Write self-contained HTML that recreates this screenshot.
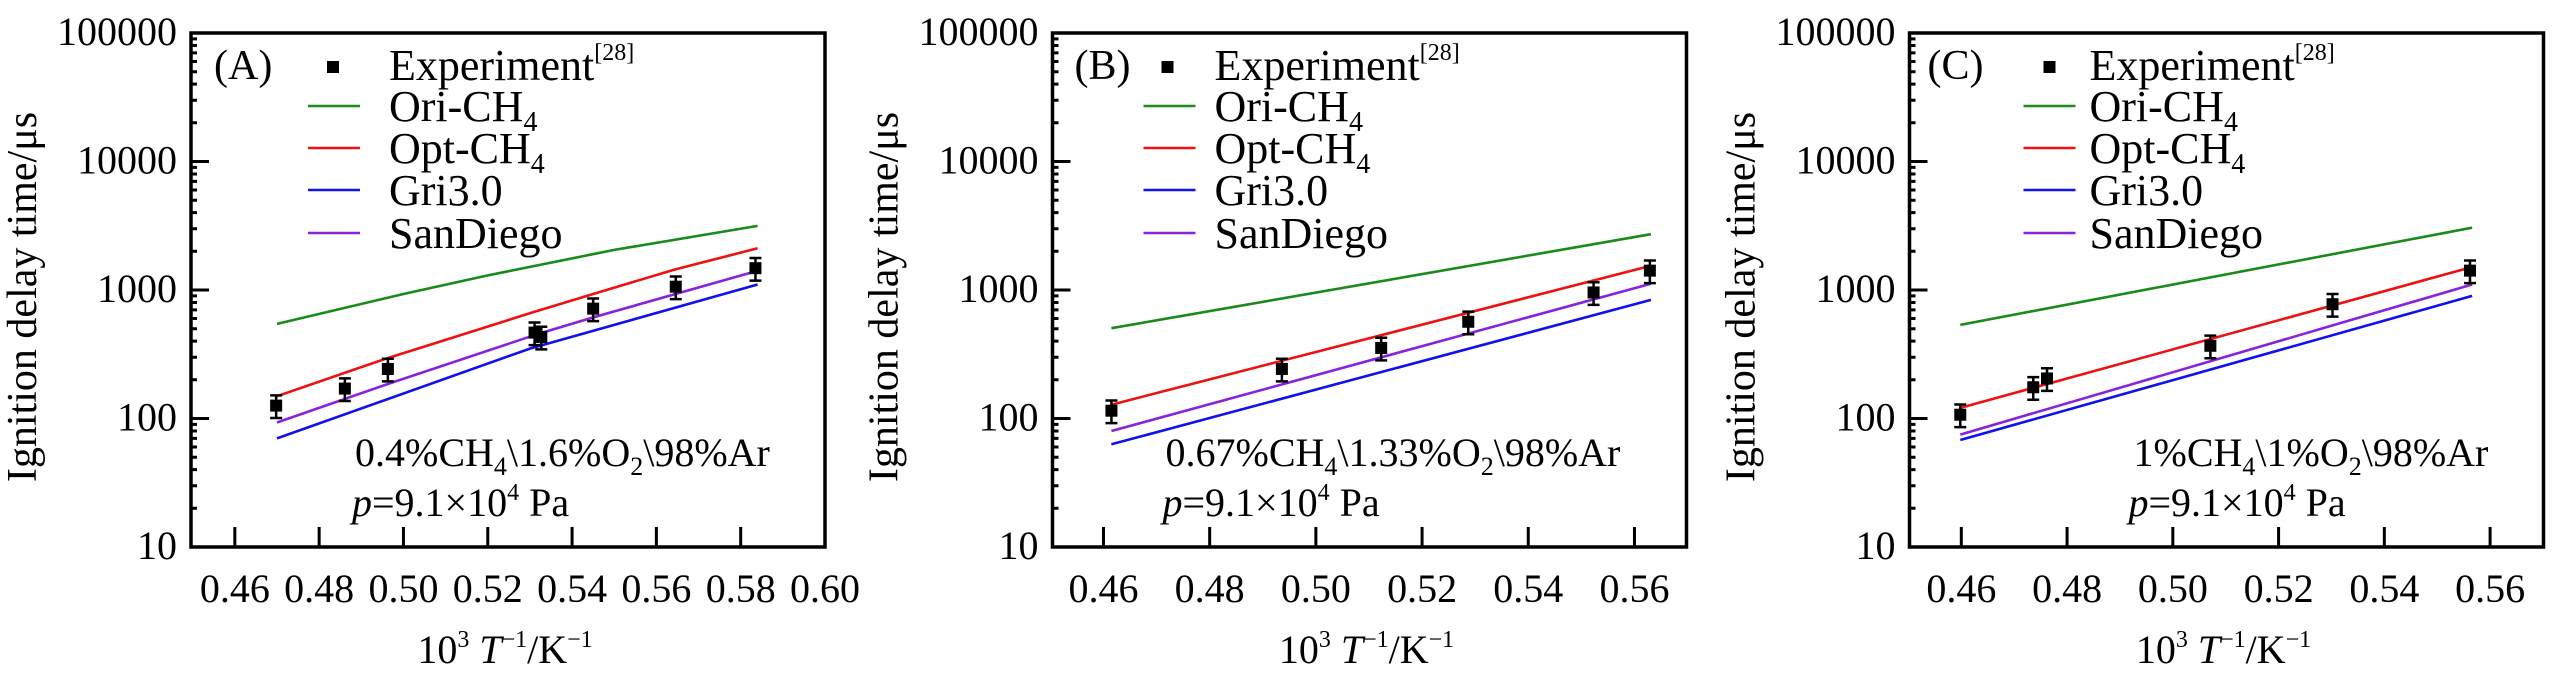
<!DOCTYPE html>
<html><head><meta charset="utf-8"><style>
html,body{margin:0;padding:0;background:#fff;}
svg{display:block;}
svg text, svg tspan{font-family:"Liberation Serif","Times New Roman",Times,"DejaVu Serif","Noto Serif CJK SC",serif !important;}
</style></head><body>
<svg id="fig" width="2567" height="684" viewBox="0 0 2567 684" xmlns="http://www.w3.org/2000/svg"></svg>
<script>
// ---- Data ----
const panelLabels = ["(A)", "(B)", "(C)"];
const xTicksA = [0.46,0.48,0.50,0.52,0.54,0.56,0.58,0.60];
const xTicksBC = [0.46,0.48,0.50,0.52,0.54,0.56];
const yTicks = [10,100,1000,10000,100000];
const yTickLabels = ["10","100","1000","10000","100000"];

const oriA_x = [0.470,0.500,0.520,0.550,0.584];
const oriA_y = [545,930,1300,2050,3155];
const optA_x = [0.470,0.4955,0.5313,0.545,0.5646,0.584];
const optA_y = [149,290,680,930,1452,2113];
const griA_x = [0.470,0.530,0.584];
const griA_y = [70,350,1104];
const sanA_x = [0.470,0.4955,0.5313,0.545,0.584];
const sanA_y = [93,182,448,612,1413];
const expA_x = [0.4698,0.4861,0.4963,0.5311,0.5327,0.5450,0.5646,0.5835];
const expA_y = [126,171,243,466,431,716,1061,1479];

const oriB_x = [0.4615,0.5631];
const oriB_y = [504,2716];
const optB_x = [0.4615,0.5631];
const optB_y = [128,1545];
const griB_x = [0.4615,0.5631];
const griB_y = [63,837];
const sanB_x = [0.4615,0.5631];
const sanB_y = [80,1119];
const expB_x = [0.4615,0.4936,0.5123,0.5287,0.5523,0.5629];
const expB_y = [115,243,354,566,957,1415];

const oriC_x = [0.4598,0.5566];
const oriC_y = [535,3055];
const optC_x = [0.4598,0.5566];
const optC_y = [121,1510];
const griC_x = [0.4598,0.5566];
const griC_y = [68,899];
const sanC_x = [0.4598,0.5566];
const sanC_y = [75,1104];
const expC_x = [0.4598,0.4736,0.4762,0.5071,0.5302,0.5562];
const expC_y = [107,175,205,368,775,1415];

const errFrac = 0.2;

// ---- Drawing ----
const NS="http://www.w3.org/2000/svg";
const svg=document.getElementById('fig');
const FF='"Liberation Serif","Times New Roman",Times,"DejaVu Serif",serif';
function mk(tag,attrs,parent){const e=document.createElementNS(NS,tag);for(const k in attrs)e.setAttribute(k,attrs[k]);if(tag==='text')e.style.fontFamily=FF;(parent||svg).appendChild(e);return e;}

const panels=[
 {left:191,xmin:0.4496,xmax:0.6,ticks:xTicksA,lab:panelLabels[0],
  series:[[oriA_x,oriA_y],[optA_x,optA_y],[griA_x,griA_y],[sanA_x,sanA_y]],ex:expA_x,ey:expA_y,
  legLine:117,legSq:142,legText:198,labX:23,annX:164,pX:161,
  ann:["0.4%CH","4","\\1.6%O","2","\\98%Ar"]},
 {left:1052.5,xmin:0.4504,xmax:0.5698,ticks:xTicksBC,lab:panelLabels[1],
  series:[[oriB_x,oriB_y],[optB_x,optB_y],[griB_x,griB_y],[sanB_x,sanB_y]],ex:expB_x,ey:expB_y,
  legLine:91,legSq:115,legText:162,labX:22,annX:113,pX:110,
  ann:["0.67%CH","4","\\1.33%O","2","\\98%Ar"]},
 {left:1909.5,xmin:0.4502,xmax:0.5701,ticks:xTicksBC,lab:panelLabels[2],
  series:[[oriC_x,oriC_y],[optC_x,optC_y],[griC_x,griC_y],[sanC_x,sanC_y]],ex:expC_x,ey:expC_y,
  legLine:114,legSq:140,legText:180,labX:18,annX:224,pX:219,
  ann:["1%CH","4","\\1%O","2","\\98%Ar"]}
];
const colors=["#1a8a1a","#ee1111","#1111ee","#8822dd"];
const names=["ori-ch4","opt-ch4","gri30","sandiego"];
const W=634, plotTop=33, plotBot=547;
const legNames=[["Ori-CH","4"],["Opt-CH","4"],["Gri3.0",""],["SanDiego",""]];

panels.forEach((p,pi)=>{
  const g=mk('g',{});
  
  
  const X=v=>p.left+(v-p.xmin)/(p.xmax-p.xmin)*W;
  const Y=v=>plotBot-(Math.log10(v)-1)/4*(plotBot-plotTop);
  p.series.forEach((s,si)=>{
    const d=s[0].map((x,i)=>(i?'L':'M')+X(x).toFixed(1)+' '+Y(s[1][i]).toFixed(1)).join(' ');
    const l=mk('path',{d:d,fill:'none',stroke:colors[si],'stroke-width':2.6,'stroke-linejoin':'round'},g);
    
    
  });
  p.ex.forEach((x,i)=>{
    const cx=X(x), cy=Y(p.ey[i]), y1=Y(p.ey[i]*(1+errFrac)), y2=Y(p.ey[i]*(1-errFrac));
    const e=mk('g',{},g);
    
    
    mk('path',{d:`M${cx} ${y1}V${y2}M${cx-6} ${y1}H${cx+6}M${cx-6} ${y2}H${cx+6}`,stroke:'#000','stroke-width':2.5,fill:'none'},e);
    mk('rect',{x:cx-6,y:cy-6,width:12,height:12,fill:'#000'},e);
  });
  const fr=mk('rect',{x:p.left,y:plotTop,width:W,height:plotBot-plotTop,fill:'none',stroke:'#000','stroke-width':3.5},g);
  
  
  let tk='';
  for(let dec=1;dec<5;dec++){for(let m=2;m<10;m++){const y=Y(m*Math.pow(10,dec));tk+=`M${p.left} ${y.toFixed(1)}h6`;}}
  yTicks.forEach(v=>{const y=Y(v);tk+=`M${p.left} ${y}h18`;});
  p.ticks.forEach(v=>{const x=X(v);tk+=`M${x} ${plotBot}v-20`;});
  mk('path',{d:tk,stroke:'#000','stroke-width':3,fill:'none'},g);
  yTicks.forEach((v,i)=>{
    const t=mk('text',{x:p.left-14,y:Y(v)+12,'text-anchor':'end','font-size':40},g);
    t.textContent=yTickLabels[i];
    
    
  });
  p.ticks.forEach(v=>{
    const t=mk('text',{x:X(v),y:602,'text-anchor':'middle','font-size':40},g);
    t.textContent=v.toFixed(2);
    
    
  });
  const yt=mk('text',{transform:`translate(${p.left-155},297) rotate(-90)`,'text-anchor':'middle','font-size':42},g);
  yt.textContent='Ignition delay time/μs';
  
  
  const xt=mk('text',{x:p.left+W/2-3,y:663,'text-anchor':'middle','font-size':40},g);
  xt.innerHTML='10<tspan font-size="24" dy="-16">3</tspan><tspan dy="16"> </tspan><tspan font-style="italic">T</tspan><tspan font-size="24" dy="-16">−1</tspan><tspan dy="16">/K</tspan><tspan font-size="24" dy="-16">−1</tspan>';
  
  
  const pl=mk('text',{x:p.left+p.labX,y:79,'font-size':42},g);
  pl.textContent=p.lab;
  
  
  const lg=mk('g',{},g);
  
  
  mk('rect',{x:p.left+p.legSq-6,y:61,width:12,height:12,fill:'#000'},lg);
  const et=mk('text',{x:p.left+p.legText,y:80,'font-size':44},lg);
  et.innerHTML='Experiment<tspan font-size="24" dy="-20">[28]</tspan>';
  
  
  const rows=[106,148,190,233];
  rows.forEach((ry,i)=>{
    mk('line',{x1:p.left+p.legLine,x2:p.left+p.legLine+52,y1:ry,y2:ry,stroke:colors[i],'stroke-width':2.6},lg);
    const t=mk('text',{x:p.left+p.legText,y:ry+15,'font-size':44},lg);
    t.innerHTML=legNames[i][0]+(legNames[i][1]?'<tspan font-size="28" dy="10">'+legNames[i][1]+'</tspan>':'');
    
    
  });
  const a=p.ann;
  const at=mk('text',{x:p.left+p.annX,y:466,'font-size':40},g);
  at.innerHTML=`${a[0]}<tspan font-size="26" dy="9">${a[1]}</tspan><tspan dy="-9">${a[2]}</tspan><tspan font-size="26" dy="9">${a[3]}</tspan><tspan dy="-9">${a[4]}</tspan>`;
  
  
  const pt=mk('text',{x:p.left+p.pX,y:516,'font-size':40},g);
  pt.innerHTML='<tspan font-style="italic">p</tspan>=9.1×10<tspan font-size="24" dy="-16">4</tspan><tspan dy="16"> Pa</tspan>';
  
  
});
</script>
</body></html>
